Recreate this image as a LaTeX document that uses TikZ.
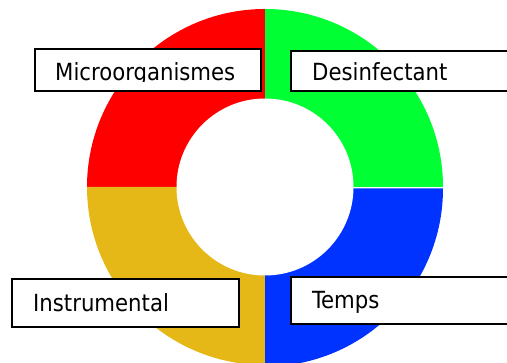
\documentclass[tikz,border=0pt]{standalone}
\usepackage{fontspec}
\setmainfont{DejaVu Sans Condensed}
\definecolor{qred}{RGB}{255,0,0}
\definecolor{qgreen}{RGB}{0,255,51}
\definecolor{qblue}{RGB}{0,51,255}
\definecolor{qgold}{RGB}{229,184,23}
\tikzset{
  labelbox/.style={draw=black, line width=1.8pt, fill=white},
  labeltext/.style={anchor=base west, inner sep=0pt, font=\fontsize{23.6}{27}\selectfont, text=black}
}
\begin{document}
\begin{tikzpicture}[x=1pt,y=1pt]
\useasboundingbox (0,0) rectangle (507,-363);
\clip (0,0) rectangle (507,-363);
\coordinate (C) at (265,-187);
\coordinate (CB) at (265,-188.5);
% ring quadrants
\fill[qred] (C) -- ++(90:178) arc[start angle=90,end angle=180,radius=178] -- cycle;
\fill[qgreen] (C) -- ++(0:178) arc[start angle=0,end angle=90,radius=178] -- cycle;
\fill[qgold] (C) -- ++(180:178) arc[start angle=180,end angle=270,radius=178] -- cycle;
\fill[qblue] (CB) -- ++(270:178) arc[start angle=270,end angle=360,radius=178] -- cycle;
\fill[white] (C) circle[radius=88.5];
% boxes
\draw[labelbox] (35,-49) rectangle (261,-91);
\draw[labelbox] (291,-51) rectangle (530,-91);
\draw[labelbox] (12,-279) rectangle (239,-327);
\draw[labelbox] (291,-277) rectangle (530,-324);
% texts (top ones clipped at the baseline, as in the reference)
\begin{scope}
\clip (36,-50) rectangle (260,-82);
\node[labeltext] (micro) at (55,-81) {Microorganismes};
\end{scope}
\begin{scope}
\clip (292,-52) rectangle (507,-81.5);
\node[labeltext] (desin) at (312,-81) {Desinfectant};
\end{scope}
\node[labeltext] (instr) at (33,-312) {Instrumental};
\node[labeltext] (temps) at (312,-309) {Temps};
\end{tikzpicture}
\end{document}
